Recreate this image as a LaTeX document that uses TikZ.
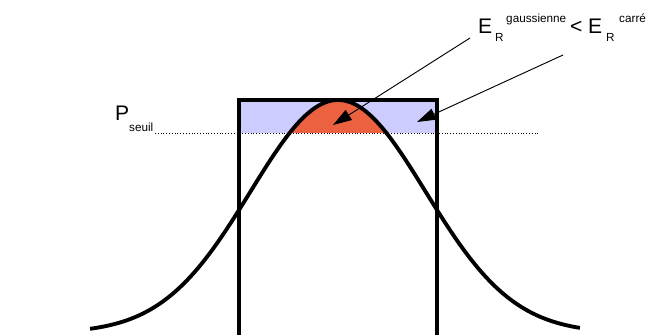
\documentclass[tikz,border=0pt]{standalone}
\usepackage{fontspec}
\setmainfont{Liberation Sans}
\usetikzlibrary{arrows.meta}
\definecolor{lavande}{RGB}{204,204,255}
\definecolor{rouge}{RGB}{236,98,64}
\tikzset{
  cadre/.style={line width=3.4pt},
  courbe/.style={line width=3.3pt},
  fleche/.style={line width=0.8pt, -{Triangle[length=16pt,width=10pt]}},
  grand/.style={inner sep=0pt, anchor=base west, font=\fontsize{18}{21}\selectfont},
  petit/.style={inner sep=0pt, anchor=base west, font=\fontsize{10}{12}\selectfont}
}
\begin{document}
\begin{tikzpicture}[x=0.03cm, y=-0.03cm]
    \useasboundingbox (0,0) rectangle (653,334);
    \clip (0,0) rectangle (653,334);
    % zone au-dessus du seuil
    \fill[lavande] (239,100) rectangle (437,133);
    \fill[rouge] plot[domain=-0.484:0.484, samples=40] ({338+100*\x}, {333-233*exp(-\x*\x/1.5338)}) -- cycle;
    % seuil
    \draw[dotted] (155,133) -- (540,133);
    % gaussienne
    \draw[courbe] plot[domain=-2.48:2.42, samples=120, smooth] ({338+100*\x}, {333-233*exp(-\x*\x/1.5338)});
    % carre
    \draw[cadre] (239,345) -- (239,100) -- (437,100) -- (437,345);
    % textes
    \node[grand] (p) at (115,120) {P};
    \node[petit] (seuil) at (129,131) {seuil};
    \node[grand] (e1) at (478,33) {E};
    \node[petit] (r1) at (495,41) {R};
    \node[petit] (gauss) at (506,22) {gaussienne};
    \node[grand] (inf) at (570,33) {<};
    \node[grand] (e2) at (588,33) {E};
    \node[petit] (r2) at (606,41) {R};
    \node[petit] (carre) at (619,22) {carré};
    % fleches
    \coordinate (d1) at (470,38);
    \coordinate (f1) at (333,125);
    \coordinate (d2) at (563,55);
    \coordinate (f2) at (417,122);
    \draw[fleche] (d1) -- (f1);
    \draw[fleche] (d2) -- (f2);
\end{tikzpicture}
\end{document}
